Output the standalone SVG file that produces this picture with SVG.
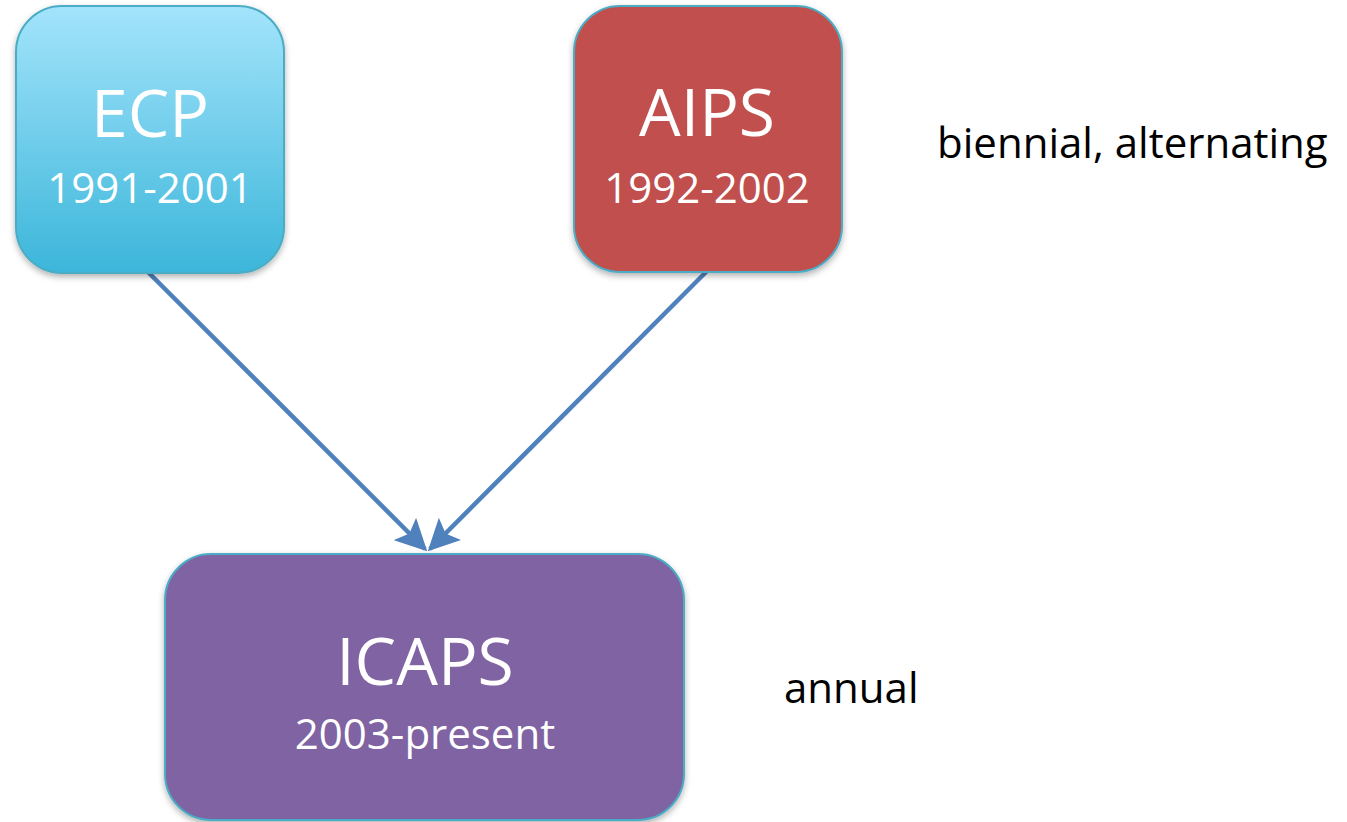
<svg xmlns="http://www.w3.org/2000/svg" width="1347" height="822" viewBox="0 0 1347 822">
<style>
.box{stroke:#4BACC6;stroke-width:2;filter:url(#sh)}
.big{font-family:"Open Sans","Noto Sans",sans-serif;fill:#fff;text-anchor:middle}
.lbl{font-family:"Open Sans","Noto Sans",sans-serif;fill:#000;font-size:42px}
.conn{stroke:#4F81BD;stroke-width:4.5;fill:none;marker-end:url(#ah)}
</style>
<defs>
<linearGradient id="g1" x1="0" y1="0" x2="0" y2="1">
<stop offset="0" stop-color="#A3E4FB"/>
<stop offset="1" stop-color="#3CB6DA"/>
</linearGradient>
<filter id="sh" x="-10%" y="-10%" width="120%" height="120%">
<feDropShadow dx="0" dy="3" stdDeviation="3" flood-color="#000" flood-opacity="0.3"/>
</filter>
<marker id="ah" viewBox="0 0 10 10" refX="9" refY="5" markerWidth="7" markerHeight="7" markerUnits="strokeWidth" orient="auto">
<path d="M0,0 L10,5 L0,10 L2,5 Z" fill="#4F81BD"/>
</marker>
</defs>
<g id="connectors">
<line class="conn" x1="147" y1="271" x2="425" y2="549"/>
<line class="conn" x1="707" y1="271" x2="430" y2="549"/>
</g>
<g id="ecp">
<rect class="box" x="16" y="6" width="268" height="267" rx="46" fill="url(#g1)"/>
<text class="big" x="150" y="137" font-size="66">ECP</text>
<text class="big" x="150" y="203" font-size="42">1991-2001</text>
</g>
<g id="aips">
<rect class="box" x="574" y="6" width="268" height="266" rx="46" fill="#C0504D"/>
<text class="big" x="707" y="136" font-size="66">AIPS</text>
<text class="big" x="707" y="203" font-size="42">1992-2002</text>
</g>
<g id="icaps">
<rect class="box" x="165" y="554" width="519" height="266" rx="46" fill="#8064A2"/>
<text class="big" x="425" y="685" font-size="66">ICAPS</text>
<text class="big" x="425" y="749" font-size="42">2003-present</text>
</g>
<g id="notes">
<text class="lbl" x="937" y="158">biennial, alternating</text>
<text class="lbl" x="784" y="703">annual</text>
</g>
</svg>
